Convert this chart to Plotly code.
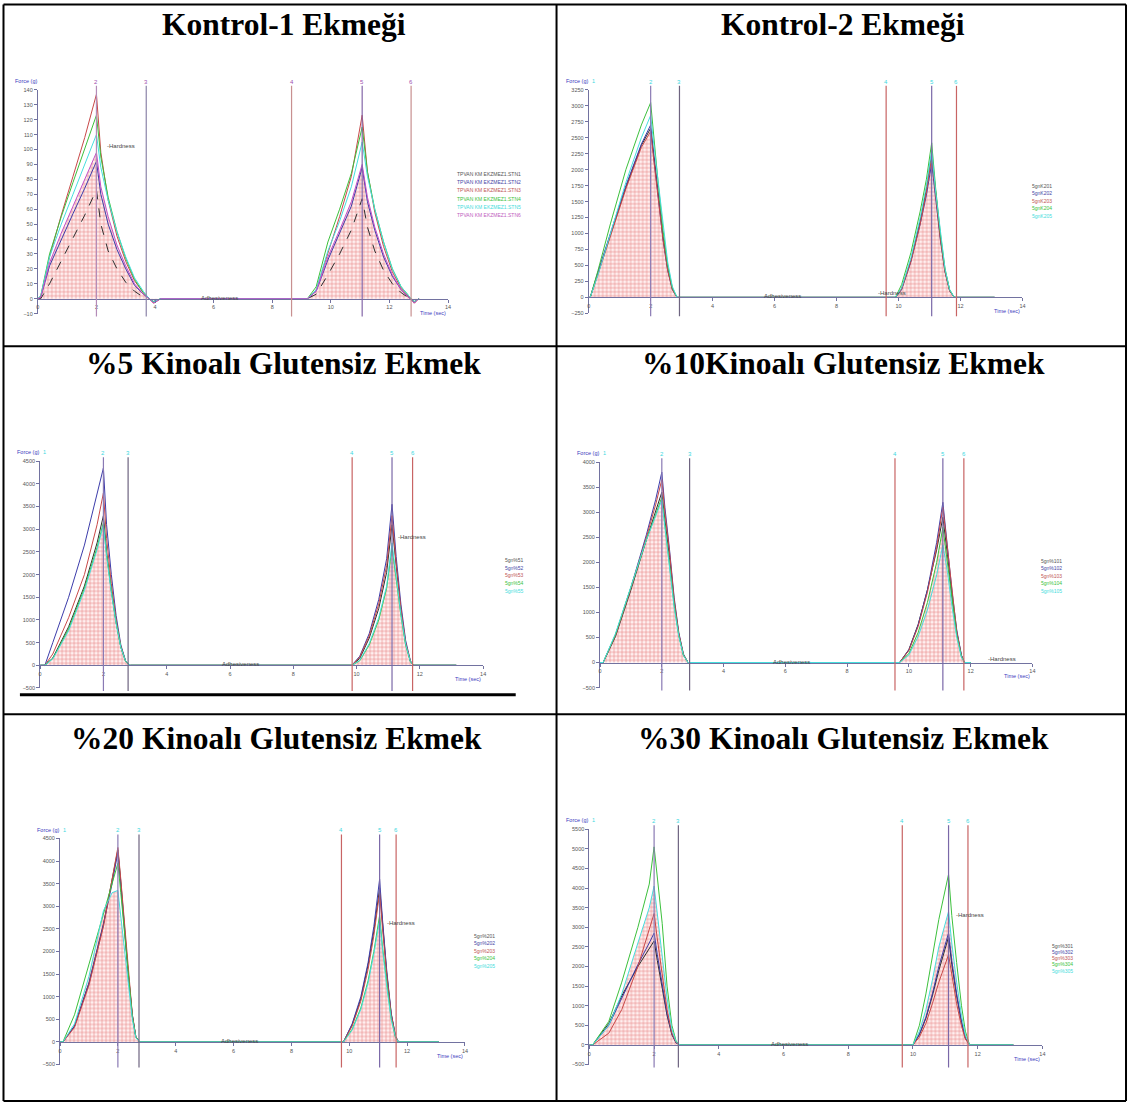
import plotly.graph_objects as go

W, H = 1131, 1108

# ------------------------------------------------------------------ data
X_TICKS = [0, 2, 4, 6, 8, 10, 12, 14]

# Kontrol-1 Ekmeği
K1_T = [0.0, 0.1, 0.4, 0.8, 1.2, 1.6, 2.0, 2.15, 2.4, 2.7, 3.0, 3.3, 3.6, 3.8, 3.95, 4.2,
        9.2, 9.5, 9.9, 10.3, 10.7, 11.07, 11.25, 11.5, 11.8, 12.1, 12.4, 12.7, 12.85, 13.0]
K1_STN1 = [0, 0, 10, 25, 40, 56, 73, 50, 32, 20, 11, 5, 1, 0, -2, 0, 0, 3, 16, 30, 46, 67, 48, 32, 19, 10, 4, 0, -2, 0]
K1_STN2 = [0, 1, 22, 40, 57, 74, 92, 70, 50, 33, 20, 9, 3, 0, -2, 0, 0, 5, 26, 44, 62, 88, 65, 46, 28, 15, 6, 0, -2, 0]
K1_STN3 = [0, 1, 28, 56, 82, 108, 137, 98, 66, 42, 25, 12, 4, 0, -3, 0, 0, 6, 30, 55, 82, 123, 85, 58, 35, 18, 7, 0, -3, 0]
K1_STN4 = [0, 2, 30, 55, 78, 100, 123, 95, 68, 45, 27, 13, 4, 0, -2, 0, 0, 8, 38, 60, 84, 115, 85, 60, 38, 20, 8, 1, -2, 0]
K1_STN5 = [0, 2, 28, 50, 70, 90, 110, 88, 66, 45, 28, 14, 5, 0, -2, 0, 0, 6, 32, 52, 75, 105, 82, 60, 38, 20, 8, 1, -2, 0]
K1_STN6 = [0, 1, 24, 44, 62, 80, 98, 75, 55, 36, 22, 10, 3, 0, -3, 0, 0, 5, 28, 46, 65, 90, 68, 48, 30, 16, 6, 0, -3, 0]
K1_NAMES = ["TPVAN KM EKZMEZ1.STN1", "TPVAN KM EKZMEZ1.STN2", "TPVAN KM EKZMEZ1.STN3",
            "TPVAN KM EKZMEZ1.STN4", "TPVAN KM EKZMEZ1.STN5", "TPVAN KM EKZMEZ1.STN6"]
K1_YTICKS = [-10, 0, 10, 20, 30, 40, 50, 60, 70, 80, 90, 100, 110, 120, 130, 140]
K1_MARKS = [2.0, 3.7, 8.66, 11.07, 12.74]

# Kontrol-2 Ekmeği
K2_T = [0.0, 0.05, 0.3, 0.7, 1.2, 1.7, 2.0, 2.1, 2.25, 2.4, 2.55, 2.7, 2.85,
        9.9, 10.1, 10.4, 10.7, 10.9, 11.07, 11.2, 11.35, 11.5, 11.65, 11.8, 13.1]
K2_S1 = [0, 0, 380, 980, 1720, 2380, 2650, 2250, 1600, 950, 450, 140, 0, 0, 140, 580, 1200, 1700, 2250, 1600, 950, 420, 110, 0, 0]
K2_S2 = [0, 0, 400, 1000, 1750, 2400, 2700, 2200, 1500, 900, 420, 120, 0, 0, 120, 560, 1150, 1600, 2100, 1500, 900, 400, 100, 0, 0]
K2_S3 = [0, 0, 360, 950, 1700, 2350, 2600, 2150, 1500, 900, 420, 120, 0, 0, 130, 560, 1150, 1650, 2200, 1550, 920, 400, 100, 0, 0]
K2_S4 = [0, 0, 420, 1150, 2000, 2700, 3050, 2500, 1750, 1050, 500, 150, 0, 0, 200, 700, 1350, 1850, 2420, 1700, 1000, 450, 120, 0, 0]
K2_S5 = [0, 0, 350, 1000, 1800, 2500, 2850, 2400, 1750, 1100, 550, 170, 0, 0, 150, 620, 1250, 1750, 2300, 1650, 1000, 450, 120, 0, 0]
K2_NAMES = ["5gnK201", "5gnK202", "5gnK203", "5gnK204", "5gnK205"]
K2_YTICKS = [-250, 0, 250, 500, 750, 1000, 1250, 1500, 1750, 2000, 2250, 2500, 2750, 3000, 3250]
K2_MARKS = [2.0, 2.93, 9.6, 11.07, 11.87]

# %5 Kinoalı Glutensiz Ekmek
P5_T = [0.0, 0.15, 0.4, 0.9, 1.4, 1.8, 2.0, 2.1, 2.25, 2.4, 2.55, 2.7, 2.85,
        9.85, 10.1, 10.4, 10.7, 10.95, 11.12, 11.25, 11.4, 11.55, 11.7, 11.8, 13.15]
P5_S1 = [0, 0, 160, 850, 1750, 2700, 3300, 2500, 1650, 950, 400, 90, 0, 0, 150, 600, 1250, 2050, 3100, 2150, 1200, 480, 90, 0, 0]
P5_S2 = [0, 0, 500, 1500, 2650, 3750, 4350, 3100, 2000, 1100, 450, 100, 0, 0, 200, 700, 1450, 2350, 3550, 2400, 1350, 550, 100, 0, 0]
P5_S3 = [0, 0, 250, 1050, 2000, 3100, 3800, 2800, 1800, 1000, 420, 90, 0, 0, 180, 650, 1350, 2200, 3300, 2250, 1250, 500, 90, 0, 0]
P5_S4 = [0, 0, 150, 800, 1700, 2600, 3150, 2450, 1650, 950, 400, 90, 0, 0, 100, 450, 1000, 1700, 2600, 1900, 1100, 450, 80, 0, 0]
P5_S5 = [0, 0, 140, 760, 1650, 2550, 3100, 2400, 1600, 920, 390, 90, 0, 0, 110, 480, 1050, 1750, 2700, 1950, 1120, 460, 80, 0, 0]
P5_NAMES = ["5gn%51", "5gn%52", "5gn%53", "5gn%54", "5gn%55"]
P5_YTICKS = [-500, 0, 500, 1000, 1500, 2000, 2500, 3000, 3500, 4000, 4500]
P5_MARKS = [2.0, 2.78, 9.86, 11.12, 11.77]

# %10 Kinoalı Glutensiz Ekmek
P10_T = [0.0, 0.1, 0.5, 1.0, 1.5, 1.8, 2.0, 2.1, 2.25, 2.4, 2.55, 2.7, 2.85,
         9.7, 10.0, 10.3, 10.6, 10.9, 11.1, 11.25, 11.4, 11.55, 11.7, 11.8, 12.0]
P10_S1 = [0, 0, 520, 1450, 2450, 3000, 3400, 2850, 2100, 1200, 560, 150, 0, 0, 260, 760, 1450, 2250, 2900, 2150, 1300, 600, 140, 0, 0]
P10_S2 = [0, 0, 550, 1500, 2550, 3250, 3800, 3100, 2250, 1300, 600, 170, 0, 0, 250, 750, 1450, 2400, 3200, 2300, 1400, 650, 150, 0, 0]
P10_S3 = [0, 0, 540, 1480, 2500, 3150, 3650, 3000, 2200, 1250, 580, 160, 0, 0, 240, 720, 1400, 2300, 3100, 2250, 1350, 620, 140, 0, 0]
P10_S4 = [0, 0, 560, 1500, 2450, 2950, 3300, 2750, 2000, 1150, 540, 150, 0, 0, 180, 600, 1200, 2000, 2700, 2000, 1200, 550, 120, 0, 0]
P10_S5 = [0, 0, 580, 1520, 2450, 2920, 3250, 2700, 1950, 1100, 520, 140, 0, 0, 150, 520, 1050, 1750, 2350, 1800, 1100, 500, 110, 0, 0]
P10_NAMES = ["5gn%101", "5gn%102", "5gn%103", "5gn%104", "5gn%105"]
P10_YTICKS = [-500, 0, 500, 1000, 1500, 2000, 2500, 3000, 3500, 4000]
P10_MARKS = [2.0, 2.9, 9.55, 11.1, 11.78]

# %20 Kinoalı Glutensiz Ekmek
P20_T = [0.0, 0.1, 0.5, 1.0, 1.5, 1.8, 2.0, 2.1, 2.2, 2.35, 2.5, 2.62, 2.75,
         9.8, 10.1, 10.4, 10.65, 10.85, 11.05, 11.15, 11.3, 11.45, 11.6, 11.7, 13.1]
P20_S1 = [0, 0, 350, 1300, 2600, 3550, 4250, 3550, 2750, 1600, 600, 120, 0, 0, 380, 950, 1700, 2450, 3400, 2600, 1500, 620, 120, 0, 0]
P20_S2 = [0, 0, 350, 1300, 2600, 3500, 4200, 3500, 2700, 1550, 580, 110, 0, 0, 400, 1000, 1750, 2550, 3600, 2700, 1550, 640, 130, 0, 0]
P20_S3 = [0, 0, 320, 1250, 2550, 3550, 4300, 3600, 2800, 1600, 600, 120, 0, 0, 350, 900, 1600, 2350, 3300, 2500, 1450, 600, 120, 0, 0]
P20_S4 = [0, 0, 600, 1700, 2850, 3500, 3950, 3300, 2600, 1500, 560, 110, 0, 0, 280, 750, 1350, 2000, 2800, 2100, 1250, 520, 100, 0, 0]
P20_S5 = [0, 0, 400, 1450, 2900, 3300, 3350, 2800, 2200, 1300, 500, 100, 0, 0, 260, 720, 1300, 1950, 2700, 2050, 1200, 500, 100, 0, 0]
P20_NAMES = ["5gn%201", "5gn%202", "5gn%203", "5gn%204", "5gn%205"]
P20_YTICKS = [-500, 0, 500, 1000, 1500, 2000, 2500, 3000, 3500, 4000, 4500]
P20_MARKS = [2.0, 2.73, 9.73, 11.05, 11.62]

# %30 Kinoalı Glutensiz Ekmek
P30_T = [0.0, 0.1, 0.6, 1.0, 1.5, 1.85, 2.0, 2.1, 2.25, 2.4, 2.55, 2.68, 2.8,
         10.0, 10.2, 10.4, 10.6, 10.8, 11.1, 11.2, 11.35, 11.5, 11.62, 11.75, 13.1]
P30_S1 = [0, 0, 550, 1250, 2000, 2450, 2650, 2150, 1500, 750, 260, 50, 0, 0, 260, 680, 1250, 1900, 2750, 2050, 1250, 580, 170, 0, 0]
P30_S2 = [0, 0, 500, 1200, 2050, 2600, 2850, 2300, 1600, 800, 280, 50, 0, 0, 280, 700, 1300, 2000, 2850, 2150, 1300, 600, 180, 0, 0]
P30_S3 = [0, 0, 300, 900, 2000, 2950, 3350, 2700, 1800, 900, 300, 60, 0, 0, 200, 550, 1050, 1600, 2300, 1750, 1050, 480, 150, 0, 0]
P30_S4 = [0, 0, 600, 1600, 3000, 4100, 5050, 4200, 3100, 1500, 500, 100, 0, 0, 500, 1300, 2200, 3200, 4350, 3300, 2100, 1000, 350, 0, 0]
P30_S5 = [0, 0, 500, 1300, 2600, 3500, 4050, 3300, 2300, 1200, 400, 80, 0, 0, 350, 900, 1650, 2500, 3400, 2600, 1600, 750, 250, 0, 0]
P30_NAMES = ["5gn%301", "5gn%302", "5gn%303", "5gn%304", "5gn%305"]
P30_YTICKS = [-500, 0, 500, 1000, 1500, 2000, 2500, 3000, 3500, 4000, 4500, 5000, 5500]
P30_MARKS = [2.0, 2.75, 9.67, 11.1, 11.7]

MARK_LABELS = ["2", "3", "4", "5", "6"]

# ------------------------------------------------------------------ style
LINE_COL = ["#2e2e2e", "#3c3caa", "#c84848", "#3cc03c", "#46dede", "#c050c8"]
TEXT_COL = ["#555555", "#4545a5", "#c05555", "#3cbf3c", "#45dcdc", "#c060c0"]
MARK_COL_A = ["#b48cb8", "#8c84a8", "#c89090", "#8466a8", "#c89090"]
MARK_COL_B = ["#8a7ab4", "#6e6480", "#c86464", "#7a68a8", "#c86464"]

charts = [
    dict(title="Kontrol-1 Ekmeği", tx=283, ty=22, x0=36, x14=448, ytop=87.3, ybot=312.3,
         yr=(-10, 140), yt=K1_YTICKS, T=K1_T,
         S=[K1_STN1, K1_STN2, K1_STN3, K1_STN4, K1_STN5, K1_STN6], names=K1_NAMES,
         marks=K1_MARKS, mcol=MARK_COL_A, mlab="#a050b0", fill=5, lx=455, ly=172, lsp=8.2,
         hx=103, hy=144, ax=218, dash0=True, one=False),
    dict(title="Kontrol-2 Ekmeği", tx=845, ty=22, x0=589.3, x14=1025, ytop=87.3, ybot=312,
         yr=(-250, 3250), yt=K2_YTICKS, T=K2_T,
         S=[K2_S1, K2_S2, K2_S3, K2_S4, K2_S5], names=K2_NAMES,
         marks=K2_MARKS, mcol=MARK_COL_B, mlab="#40d8e0", fill=2, lx=1033, ly=184, lsp=7.5,
         hx=878, hy=292, ax=784, dash0=False, one=True),
    dict(title="%5 Kinoalı Glutensiz Ekmek", tx=283, ty=362, x0=38.3, x14=483.3, ytop=460.7, ybot=688.7,
         yr=(-500, 4500), yt=P5_YTICKS, T=P5_T,
         S=[P5_S1, P5_S2, P5_S3, P5_S4, P5_S5], names=P5_NAMES,
         marks=P5_MARKS, mcol=MARK_COL_B, mlab="#40d8e0", fill=3, lx=503, ly=560, lsp=7.8,
         hx=396, hy=537, ax=240, dash0=False, one=True),
    dict(title="%10Kinoalı Glutensiz Ekmek", tx=845, ty=362, x0=600.7, x14=1035, ytop=461.7, ybot=688.3,
         yr=(-500, 4000), yt=P10_YTICKS, T=P10_T,
         S=[P10_S1, P10_S2, P10_S3, P10_S4, P10_S5], names=P10_NAMES,
         marks=P10_MARKS, mcol=MARK_COL_B, mlab="#40d8e0", fill=3, lx=1042, ly=561, lsp=7.5,
         hx=988, hy=660, ax=793, dash0=False, one=True),
    dict(title="%20 Kinoalı Glutensiz Ekmek", tx=276, ty=740, x0=58.3, x14=465, ytop=840, ybot=1067.3,
         yr=(-500, 4500), yt=P20_YTICKS, T=P20_T,
         S=[P20_S1, P20_S2, P20_S3, P20_S4, P20_S5], names=P20_NAMES,
         marks=P20_MARKS, mcol=MARK_COL_B, mlab="#40d8e0", fill=4, lx=472, ly=938, lsp=7.5,
         hx=385, hy=925, ax=239, dash0=False, one=True),
    dict(title="%30 Kinoalı Glutensiz Ekmek", tx=845, ty=740, x0=590, x14=1045, ytop=830.7, ybot=1067.3,
         yr=(-500, 5500), yt=P30_YTICKS, T=P30_T,
         S=[P30_S1, P30_S2, P30_S3, P30_S4, P30_S5], names=P30_NAMES,
         marks=P30_MARKS, mcol=MARK_COL_B, mlab="#40d8e0", fill=4, lx=1053, ly=948, lsp=6.2,
         hx=956, hy=917, ax=791, dash0=False, one=True),
]


def pxx(p):
    return p / W


def pyy(p):
    return 1 - p / H


def note(x, y, text, size, color, xanchor="center", family="Liberation Sans", xref="paper"):
    return dict(x=x, y=y, xref=xref, yref="paper", text=text, showarrow=False,
                xanchor=xanchor, yanchor="middle",
                font=dict(size=size, color=color, family=family))


fig = go.Figure()
shapes = []
annotations = []
layout_axes = {}

for i, c in enumerate(charts, start=1):
    xa = "x" if i == 1 else f"x{i}"
    ya = "y" if i == 1 else f"y{i}"
    xkey = "xaxis" if i == 1 else f"xaxis{i}"
    ykey = "yaxis" if i == 1 else f"yaxis{i}"
    ymin, ymax = c["yr"]
    hpx = c["ybot"] - c["ytop"]
    y0px = c["ytop"] + (ymax - 0) / (ymax - ymin) * hpx

    # hatched area (texture analyser shading)
    fs = c["S"][c["fill"]]
    fig.add_trace(go.Scatter(
        x=c["T"], y=fs, mode="lines", xaxis=xa, yaxis=ya, showlegend=False,
        line=dict(width=0, color="rgba(0,0,0,0)"), fill="tozeroy",
        fillpattern=dict(shape="+", fgcolor="rgba(215,70,70,0.8)", bgcolor="rgba(255,238,238,0.9)",
                         size=4, solidity=0.22, fillmode="replace"),
        hoverinfo="skip"))

    # vertical event markers
    for k, (t, col) in enumerate(zip(c["marks"], c["mcol"])):
        shapes.append(dict(type="line", xref=xa, yref=f"{ya} domain", x0=t, x1=t,
                           y0=-3 / hpx, y1=1 + 4 / hpx, line=dict(color=col, width=1.2)))
        annotations.append(note(t, pyy(c["ytop"] - 8), MARK_LABELS[k], 6, c["mlab"], xref=xa))

    # curves
    for k, (vals, name) in enumerate(zip(c["S"], c["names"])):
        dash = "dash" if (c["dash0"] and k == 0) else "solid"
        fig.add_trace(go.Scatter(
            x=c["T"], y=vals, mode="lines", name=name, xaxis=xa, yaxis=ya, showlegend=False,
            line=dict(color=LINE_COL[k], width=1, dash=dash)))
        annotations.append(note(pxx(c["lx"]), pyy(c["ly"] + k * c["lsp"]), name, 5, TEXT_COL[k],
                                xanchor="left", family="Liberation Sans Narrow, Liberation Sans"))

    layout_axes[xkey] = dict(domain=[pxx(c["x0"]), pxx(c["x14"])], range=[0, 14], anchor="free",
                             position=pyy(y0px), showline=True, linecolor="#7272a0", linewidth=1,
                             ticks="outside", ticklen=3, tickcolor="#7272a0", tickvals=X_TICKS,
                             tickfont=dict(size=5.5, color="#555555", family="Liberation Sans"),
                             showgrid=False, zeroline=False)
    layout_axes[ykey] = dict(domain=[pyy(c["ybot"]), pyy(c["ytop"])], range=[ymin, ymax], anchor=xa,
                             showline=True, linecolor="#7272a0", linewidth=1, ticks="outside", ticklen=3,
                             tickcolor="#7272a0", tickvals=c["yt"],
                             tickfont=dict(size=5.5, color="#555555", family="Liberation Sans"),
                             showgrid=False, zeroline=False)

    # texts
    annotations.append(note(pxx(c["tx"]), pyy(c["ty"]), f"<b>{c['title']}</b>", 31.5, "black",
                            family="Liberation Serif"))
    annotations.append(note(pxx(c["x0"] + 1), pyy(c["ytop"] - 9), "Force (g)", 5.5, "#3c3cc0",
                            xanchor="right"))
    if c["one"]:
        annotations.append(note(pxx(c["x0"] + 1), pyy(c["ytop"] - 9), "1", 5.5, "#40d8e0",
                                xanchor="left"))
    annotations.append(note(pxx(c["x14"]), pyy(y0px + 14), "Time (sec)", 5.5, "#3c3cc0",
                            xanchor="right"))
    annotations.append(note(pxx(c["hx"]), pyy(c["hy"]), "-Hardness", 6, "#444444", xanchor="left"))
    annotations.append(note(pxx(c["ax"]), pyy(y0px - 1), "Adhesiveness", 6, "#444444"))

# table grid
BL = dict(color="black", width=2)
for (x0, y0, x1, y1) in [(1.5, 1.5, 1129, 1.5), (1.5, 1104, 1129, 1104), (1.5, 1.5, 1.5, 1104),
                         (1129, 1.5, 1129, 1104), (557, 1.5, 557, 1104),
                         (1.5, 345, 1129, 345), (1.5, 715, 1129, 715)]:
    shapes.append(dict(type="line", xref="paper", yref="paper", x0=pxx(x0), x1=pxx(x1),
                       y0=pyy(y0), y1=pyy(y1), line=BL))
# heavy rule under the %5 panel
shapes.append(dict(type="line", xref="paper", yref="paper", x0=pxx(18), x1=pxx(516),
                   y0=pyy(695.5), y1=pyy(695.5), line=dict(color="black", width=3)))

fig.update_layout(width=W, height=H, margin=dict(l=0, r=0, t=0, b=0),
                  paper_bgcolor="white", plot_bgcolor="rgba(0,0,0,0)",
                  shapes=shapes, annotations=annotations, showlegend=False, **layout_axes)

fig.write_html("out.html")
